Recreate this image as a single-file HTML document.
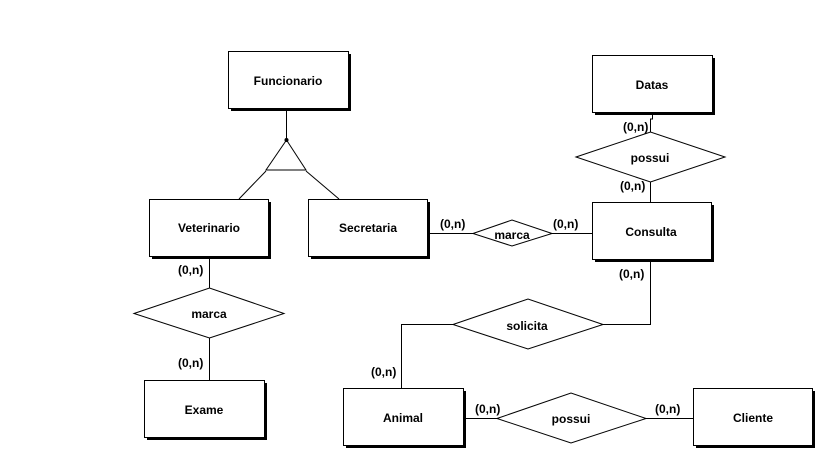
<!DOCTYPE html>
<html><head><style>html,body{margin:0;padding:0;background:#fff;}svg{display:block}text{font-family:"Liberation Sans",sans-serif;font-weight:bold;font-size:12px;fill:#000}</style></head>
<body>
<svg width="817" height="450" viewBox="0 0 817 450" xmlns="http://www.w3.org/2000/svg">
<g stroke="#000" stroke-width="1" fill="none">
<!-- connectors -->
<line x1="286.5" y1="109" x2="286.5" y2="140"/>
<polygon points="286.5,140 266,170 306,170" fill="#fff"/>
<circle cx="286.5" cy="140" r="1.5" fill="#000"/>
<line x1="266" y1="171" x2="239" y2="199"/>
<line x1="306" y1="171" x2="339" y2="199"/>
<line x1="427" y1="233.5" x2="592" y2="233.5"/>
<line x1="209.5" y1="259" x2="209.5" y2="380"/>
<polyline points="652.5,113 652.5,119 650.5,119 650.5,202"/>
<polyline points="650.5,262 650.5,324.5 603,324.5"/>
<polyline points="453,324.5 401.5,324.5 401.5,388"/>
<line x1="463" y1="418.5" x2="693" y2="418.5"/>
</g>
<!-- shadows -->
<g fill="#000">
<rect x="231" y="54" width="120" height="57"/>
<rect x="595" y="58" width="120" height="57"/>
<rect x="152" y="202" width="119" height="57"/>
<rect x="311" y="202" width="119" height="57"/>
<rect x="595" y="205" width="119" height="57"/>
<rect x="147" y="383" width="120" height="57"/>
<rect x="346" y="391" width="120" height="57"/>
<rect x="696" y="391" width="119" height="57"/>
</g>
<g fill="#fff" stroke="#000" stroke-width="1">
<rect x="228.5" y="51.5" width="120" height="57"/>
<rect x="592.5" y="55.5" width="120" height="57"/>
<rect x="149.5" y="199.5" width="119" height="57"/>
<rect x="308.5" y="199.5" width="119" height="57"/>
<rect x="592.5" y="202.5" width="119" height="57"/>
<rect x="144.5" y="380.5" width="120" height="57"/>
<rect x="343.5" y="388.5" width="120" height="57"/>
<rect x="693.5" y="388.5" width="119" height="57"/>
<polygon points="576,157 650.5,132 725,157 650.5,182"/>
<polygon points="473,233.5 512,220 552,233.5 512,246"/>
<polygon points="134,313.5 209.5,288 284,313.5 209.5,338"/>
<polygon points="453,324.5 528,299 603,324.5 528,349"/>
<polygon points="497,418.5 571,393 646,418.5 571,443"/>
</g>
<g text-anchor="middle">
<text x="288" y="85">Funcionario</text>
<text x="652" y="89">Datas</text>
<text x="209" y="232">Veterinario</text>
<text x="368" y="232">Secretaria</text>
<text x="651" y="236">Consulta</text>
<text x="204" y="414">Exame</text>
<text x="403" y="422">Animal</text>
<text x="753" y="422">Cliente</text>
<text x="650" y="162">possui</text>
<text x="512" y="239">marca</text>
<text x="209" y="318">marca</text>
<text x="527" y="330">solicita</text>
<text x="571" y="423">possui</text>
</g>
<g>
<text x="623" y="131">(0,n)</text>
<text x="620" y="190">(0,n)</text>
<text x="440" y="228">(0,n)</text>
<text x="553" y="228">(0,n)</text>
<text x="619" y="278">(0,n)</text>
<text x="178" y="274">(0,n)</text>
<text x="178" y="367">(0,n)</text>
<text x="371" y="376">(0,n)</text>
<text x="475" y="413">(0,n)</text>
<text x="655" y="413">(0,n)</text>
</g>
</svg>
</body></html>
